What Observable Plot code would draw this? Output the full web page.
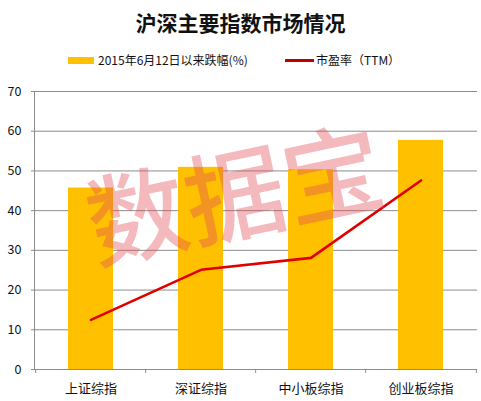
<!DOCTYPE html>
<html><head><meta charset="utf-8">
<script src="https://cdn.jsdelivr.net/npm/d3@7"></script>
<script src="https://cdn.jsdelivr.net/npm/@observablehq/plot@0.6"></script>
<style>
body{margin:0;background:#fff;font-family:"Noto Sans CJK SC","Noto Sans",sans-serif;}
#wrap{position:relative;width:481px;height:401px;overflow:hidden;}
#title{position:absolute;left:0;top:0;width:481px;height:44px;line-height:44px;text-align:center;font-size:21px;font-weight:bold;color:#111;}
#legend{position:absolute;left:0;top:50px;width:481px;height:20px;font-size:12px;color:#111;}
.sw{position:absolute;}
.lt{position:absolute;top:1px;line-height:18px;white-space:nowrap;}
#chart{position:absolute;left:0;top:72px;}
</style></head>
<body>
<div id="wrap">
<div id="title">沪深主要指数市场情况</div>
<div id="legend">
  <div class="sw" style="left:68px;top:7px;width:26px;height:7px;background:#FFC000"></div>
  <div class="lt" style="left:98px">2015年6月12日以来跌幅(%)</div>
  <div class="sw" style="left:285px;top:9px;width:29px;height:3px;background:#C00000"></div>
  <div class="lt" style="left:316px">市盈率（TTM）</div>
</div>
<div id="chart"></div>
</div>
<script>
const categories = ["上证综指", "深证综指", "中小板综指", "创业板综指"];
const declines = [45.7, 50.9, 50.3, 57.7];
const pe = [12.5, 25.1, 28.1, 47.6];
const yTicks = [0, 10, 20, 30, 40, 50, 60, 70];

const data = categories.map((c, i) => ({cat: c, decline: declines[i], pe: pe[i]}));
const W = 481, H = 329, mL = 34, mR = 4;
const step = (W - mL - mR) / categories.length;

const plot = Plot.plot({
  width: W, height: H,
  marginLeft: mL, marginRight: mR, marginTop: 19, marginBottom: 32,
  style: {fontFamily: '"Noto Sans CJK SC","Noto Sans",sans-serif', color: "#111", background: "#fff"},
  x: {domain: categories, paddingInner: 0.594, paddingOuter: 0.297, label: null},
  y: {domain: [0, 70], ticks: yTicks, label: null},
  marks: [
    Plot.gridY(yTicks, {stroke: "#8c8c8c", strokeOpacity: 1, strokeWidth: 1}),
    Plot.barY(data, {x: "cat", y: "decline", fill: "#FFC000"}),
    Plot.ruleY([0], {stroke: "#8c8c8c"}),
    Plot.frame({anchor: "left", stroke: "#8c8c8c"}),
    Plot.ruleX(categories, {x: d => d, dx: -step / 2, y1: 0, y2: -1, stroke: "#8c8c8c"}),
    Plot.ruleX(categories.slice(-1), {x: d => d, dx: step / 2, y1: 0, y2: -1, stroke: "#8c8c8c"}),
    Plot.axisY(yTicks, {tickSize: 3, tickPadding: 10, fontSize: 12.5, stroke: "#8c8c8c", fill: "#111"}),
    Plot.axisX({tickSize: 0, tickPadding: 14, fontSize: 13, fill: "#111"}),
    Plot.line(data, {x: "cat", y: "pe", stroke: "#E00000", strokeWidth: 2.6}),
    Plot.text(["数据宝"], {frameAnchor: "middle", dx: -20, dy: -30, text: d => d, fontSize: 100, rotate: -12, fill: "#e0505a", fillOpacity: 0.4, fontWeight: 500})
  ]
});
document.getElementById("chart").appendChild(plot);
</script>
</body></html>
